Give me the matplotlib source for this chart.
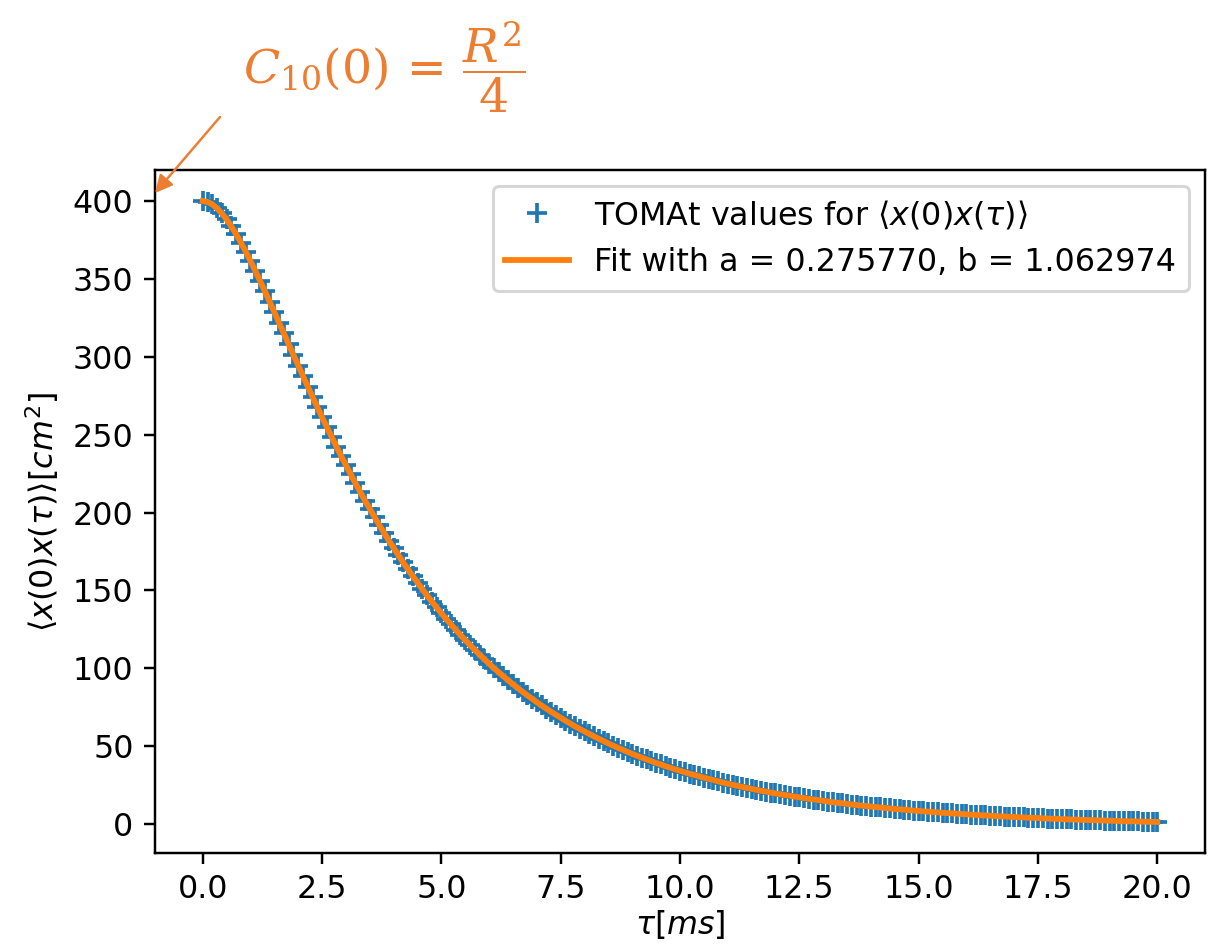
import numpy as np
import matplotlib
matplotlib.use("Agg")
import matplotlib.pyplot as plt

# TOMAt autocorrelation <x(0)x(tau)> in cm^2, sampled every 0.1 ms from 0 to 20 ms
dt_ms = 0.1
corr_values = [
    400.0, 399.4, 397.9, 395.4, 392.1, 388.2, 383.7, 378.7, 373.3, 367.6,
    361.5, 355.3, 348.8, 342.2, 335.5, 328.7, 321.8, 315.0, 308.1, 301.3,
    294.4, 287.7, 280.9, 274.3, 267.7, 261.2, 254.9, 248.6, 242.4, 236.3,
    230.4, 224.6, 218.8, 213.2, 207.7, 202.4, 197.1, 192.0, 186.9, 182.0,
    177.3, 172.6, 168.0, 163.6, 159.2, 155.0, 150.9, 146.8, 142.9, 139.1,
    135.4, 131.7, 128.2, 124.8, 121.4, 118.1, 115.0, 111.8, 108.8, 105.9,
    103.0, 100.2, 97.5, 94.9, 92.3, 89.8, 87.4, 85.0, 82.7, 80.5,
    78.3, 76.2, 74.1, 72.1, 70.2, 68.3, 66.4, 64.6, 62.8, 61.1,
    59.5, 57.9, 56.3, 54.8, 53.3, 51.8, 50.4, 49.0, 47.7, 46.4,
    45.1, 43.9, 42.7, 41.6, 40.4, 39.3, 38.3, 37.2, 36.2, 35.2,
    34.3, 33.3, 32.4, 31.6, 30.7, 29.9, 29.1, 28.3, 27.5, 26.7,
    26.0, 25.3, 24.6, 23.9, 23.3, 22.7, 22.0, 21.4, 20.9, 20.3,
    19.7, 19.2, 18.7, 18.2, 17.7, 17.2, 16.7, 16.3, 15.8, 15.4,
    15.0, 14.5, 14.1, 13.7, 13.4, 13.0, 12.6, 12.3, 11.9, 11.6,
    11.3, 11.0, 10.7, 10.4, 10.1, 9.8, 9.5, 9.3, 9.0, 8.7,
    8.5, 8.2, 8.0, 7.8, 7.5, 7.3, 7.1, 6.9, 6.7, 6.5,
    6.3, 6.1, 5.9, 5.7, 5.6, 5.4, 5.2, 5.0, 4.9, 4.7,
    4.6, 4.4, 4.3, 4.1, 4.0, 3.9, 3.7, 3.6, 3.5, 3.4,
    3.2, 3.1, 3.0, 2.9, 2.8, 2.7, 2.6, 2.5, 2.4, 2.3,
    2.2, 2.1, 2.0, 1.9, 1.8, 1.8, 1.7, 1.6, 1.5, 1.5,
    1.4,
]
fit_a, fit_b = 0.275770, 1.062974

tau = dt_ms * np.arange(len(corr_values))
orange_note = "#ED7D31"

plt.rcParams["font.size"] = 10.4

fig = plt.figure(figsize=(1217 / 220, 947 / 220), dpi=220)
ax = fig.add_axes([155 / 1217, 94 / 947, 1050 / 1217, 683 / 947])

ax.plot(tau, corr_values, "+", color="tab:blue", ms=6.5, mew=1.2,
        label=r"TOMAt values for $\langle x(0)x(\tau)\rangle$")
ax.plot(tau, corr_values, "-", color="tab:orange", lw=1.9,
        label=f"Fit with a = {fit_a:f}, b = {fit_b:f}")
ax.set_xlabel(r"$\tau [ms]$", labelpad=1)
ax.set_ylabel(r"$\langle x(0)x(\tau)\rangle [cm^2]$")
ax.legend(loc="upper right")

# annotation added on top of the plot
fig.text(243 / 1217, 1 - 68 / 947, r"$C_{10}(0)\,=\,\dfrac{R^2}{4}$",
         color=orange_note, fontsize=15.5, math_fontfamily="dejavuserif",
         ha="left", va="center")
ax.annotate("", xy=(155 / 1217, 1 - 193 / 947), xycoords="figure fraction",
            xytext=(220 / 1217, 1 - 117 / 947), textcoords="figure fraction",
            arrowprops=dict(arrowstyle="-|>", color=orange_note, lw=0.8,
                            mutation_scale=12, shrinkA=0, shrinkB=0),
            annotation_clip=False)

fig.savefig("out.png", dpi=220)
